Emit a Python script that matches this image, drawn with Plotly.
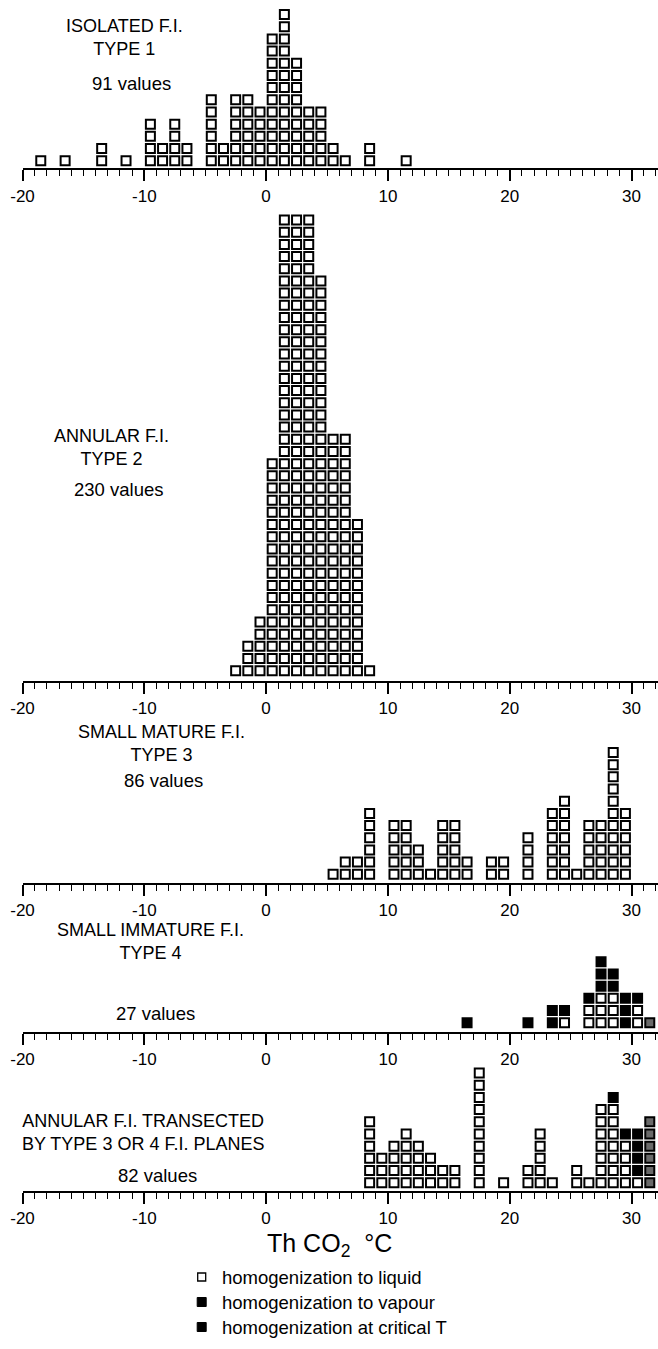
import plotly.graph_objects as go

FONT = "Liberation Sans, Arial, Helvetica, sans-serif"
W, H = 658, 1349

# ---------------- data (1 degree bins, value = lower edge of bin) ----------------
TICK_VALS = [-20, -10, 0, 10, 20, 30]
TICK_TEXT = ["-20", "-10", "0", "10", "20", "30"]

P1_BINS = [-19, -17, -14, -12, -10, -9, -8, -7, -5, -4, -3, -2, -1, 0, 1, 2, 3, 4, 5, 6, 8, 11]
P1_LIQ = [1, 1, 2, 1, 4, 2, 4, 2, 6, 2, 6, 6, 5, 11, 13, 9, 5, 5, 2, 1, 2, 1]

P2_BINS = [-3, -2, -1, 0, 1, 2, 3, 4, 5, 6, 7, 8]
P2_LIQ = [1, 3, 5, 18, 38, 38, 38, 33, 20, 20, 13, 1]

P3_BINS = [5, 6, 7, 8, 10, 11, 12, 13, 14, 15, 16, 18, 19, 21, 23, 24, 25, 26, 27, 28, 29]
P3_LIQ = [1, 2, 2, 6, 5, 5, 3, 1, 5, 5, 2, 2, 2, 4, 6, 7, 1, 5, 5, 11, 6]

P4_BINS = [16, 21, 23, 24, 26, 27, 28, 29, 30, 31]
P4_LIQ = [0, 0, 0, 1, 2, 3, 3, 0, 2, 0]
P4_VAP = [1, 1, 2, 1, 1, 3, 2, 3, 1, 0]
P4_CRIT = [0, 0, 0, 0, 0, 0, 0, 0, 0, 1]

P5_BINS = [8, 9, 10, 11, 12, 13, 14, 15, 17, 19, 21, 22, 23, 25, 26, 27, 28, 29, 30, 31]
P5_LIQ = [6, 3, 4, 5, 4, 3, 2, 2, 10, 1, 2, 5, 1, 2, 1, 7, 7, 4, 1, 0]
P5_VAP = [0, 0, 0, 0, 0, 0, 0, 0, 0, 0, 0, 0, 0, 0, 0, 0, 1, 1, 4, 0]
P5_CRIT = [0, 0, 0, 0, 0, 0, 0, 0, 0, 0, 0, 0, 0, 0, 0, 0, 0, 0, 0, 6]

P1_TITLE = ["ISOLATED F.I.", "TYPE 1"]
P2_TITLE = ["ANNULAR F.I.", "TYPE 2"]
P3_TITLE = ["SMALL MATURE F.I.", "TYPE 3"]
P4_TITLE = ["SMALL IMMATURE F.I.", "TYPE 4"]
P5_TITLE = ["ANNULAR F.I. TRANSECTED", "BY TYPE 3 OR 4 F.I. PLANES"]
P_COUNTS = ["91 values", "230 values", "86 values", "27 values", "82 values"]

LEGEND_TEXT = ["homogenization to liquid", "homogenization to vapour", "homogenization at critical T"]

# ---------------- layout geometry (pixels) ----------------
PX_PER_UNIT = 12.18
X_LEFT_PX = 22.5
PANELS = [
    dict(bins=P1_BINS, liq=P1_LIQ, vap=None, crit=None, L=168.3, o=7.6, T=0,
         title=P1_TITLE, tpos=(124, 37), cpos=(131, 83.5)),
    dict(bins=P2_BINS, liq=P2_LIQ, vap=None, crit=None, L=680.7, o=10.0, T=200,
         title=P2_TITLE, tpos=(111, 447.5), cpos=(118, 490)),
    dict(bins=P3_BINS, liq=P3_LIQ, vap=None, crit=None, L=882.7, o=8.4, T=722,
         title=P3_TITLE, tpos=(161, 743.5), cpos=(163, 780)),
    dict(bins=P4_BINS, liq=P4_LIQ, vap=P4_VAP, crit=P4_CRIT, L=1031.7, o=9.0, T=930,
         title=P4_TITLE, tpos=(150, 941.5), cpos=(155, 1013)),
    dict(bins=P5_BINS, liq=P5_LIQ, vap=P5_VAP, crit=P5_CRIT, L=1190.5, o=7.8, T=1066,
         title=P5_TITLE, tpos=(143, 1132.5), cpos=(157, 1175)),
]
for p, c in zip(PANELS, P_COUNTS):
    p["count"] = c

X_RANGE = [-20, -20 + (W - X_LEFT_PX) / PX_PER_UNIT]


def stack(bins, liq, vap, crit):
    n = len(bins)
    vap = vap or [0] * n
    crit = crit or [0] * n
    out = {"liq": ([], []), "vap": ([], []), "crit": ([], [])}
    for b, a, v, c in zip(bins, liq, vap, crit):
        lvl = 0
        for key, cnt in (("liq", a), ("vap", v), ("crit", c)):
            for _ in range(cnt):
                out[key][0].append(b + 0.5)
                out[key][1].append(lvl + 0.5)
                lvl += 1
    return out


STYLE = {
    "liq": dict(color="white", line=dict(color="black", width=2)),
    "vap": dict(color="black", line=dict(color="black", width=2)),
    "crit": dict(color="#6a6a6a", line=dict(color="black", width=2)),
}

fig = go.Figure()
annotations = []
layout_axes = {}


def ann(text, px, py, size, xanchor="center"):
    return dict(text=text, x=px / W, y=1 - py / H, xref="paper", yref="paper",
                xanchor=xanchor, yanchor="middle", showarrow=False,
                font=dict(family=FONT, size=size, color="black"))


for i, p in enumerate(PANELS, start=1):
    sfx = "" if i == 1 else str(i)
    pts = stack(p["bins"], p["liq"], p["vap"], p["crit"])
    for key in ("liq", "vap", "crit"):
        xs, ys = pts[key]
        if not xs:
            continue
        fig.add_trace(go.Scatter(
            x=xs, y=ys, mode="markers", xaxis="x" + sfx, yaxis="y" + sfx,
            marker=dict(symbol="square", size=9, **STYLE[key]),
            showlegend=False, hoverinfo="x+y", cliponaxis=False))
    lower = 0.5 - p["o"] / PX_PER_UNIT
    upper = lower + (p["L"] - p["T"]) / PX_PER_UNIT
    dom = [1 - p["L"] / H, 1 - p["T"] / H]
    layout_axes["xaxis" + sfx] = dict(
        domain=[X_LEFT_PX / W, 1], range=X_RANGE, anchor="y" + sfx,
        automargin=False,
        showline=True, linecolor="black", linewidth=2,
        ticks="outside", ticklen=11, tickwidth=1.6, tickcolor="black",
        tickvals=TICK_VALS, ticktext=TICK_TEXT,
        tickfont=dict(family=FONT, size=17, color="black"),
        minor=dict(ticks="outside", dtick=1, tick0=0, ticklen=6, tickwidth=1.2,
                   tickcolor="black", showgrid=False),
        showgrid=False, zeroline=False, fixedrange=True)
    layout_axes["yaxis" + sfx] = dict(
        domain=dom, range=[lower, upper], anchor="x" + sfx, visible=False,
        automargin=False, showgrid=False, zeroline=False, fixedrange=True)
    annotations.append(ann("<br>".join(p["title"]), p["tpos"][0], p["tpos"][1], 18))
    annotations.append(ann(p["count"], p["cpos"][0], p["cpos"][1], 18.5))

# axis title
annotations.append(ann("Th CO<sub>2</sub>  °C", 329, 1245, 25))

# legend (drawn manually)
LEG_ROWS_PX = [1277, 1302, 1327]
LEG_STYLE = [
    dict(color="white", line=dict(color="black", width=1.3), size=8),
    dict(color="black", line=dict(color="black", width=1), size=9),
    dict(color="black", line=dict(color="black", width=1), size=9),
]
for txt, py, st in zip(LEGEND_TEXT, LEG_ROWS_PX, LEG_STYLE):
    fig.add_trace(go.Scatter(
        x=[201.7], y=[H - py], mode="markers", xaxis="x6", yaxis="y6",
        marker=dict(symbol="square", **st), showlegend=False, hoverinfo="skip",
        cliponaxis=False))
    annotations.append(ann(txt, 220, py, 18.5, xanchor="left"))

layout_axes["xaxis6"] = dict(domain=[0, 1], range=[0, W], anchor="y6", visible=False,
                             automargin=False, fixedrange=True)
layout_axes["yaxis6"] = dict(domain=[0, 90 / H], range=[0, 90], anchor="x6", visible=False,
                             automargin=False, fixedrange=True)

fig.update_layout(
    width=W, height=H, margin=dict(l=0, r=0, t=0, b=0, pad=0, autoexpand=False),
    paper_bgcolor="white", plot_bgcolor="white",
    annotations=annotations, showlegend=False,
    font=dict(family=FONT, color="black"),
    **layout_axes)

fig.write_html("out.html", config={"displayModeBar": False})
